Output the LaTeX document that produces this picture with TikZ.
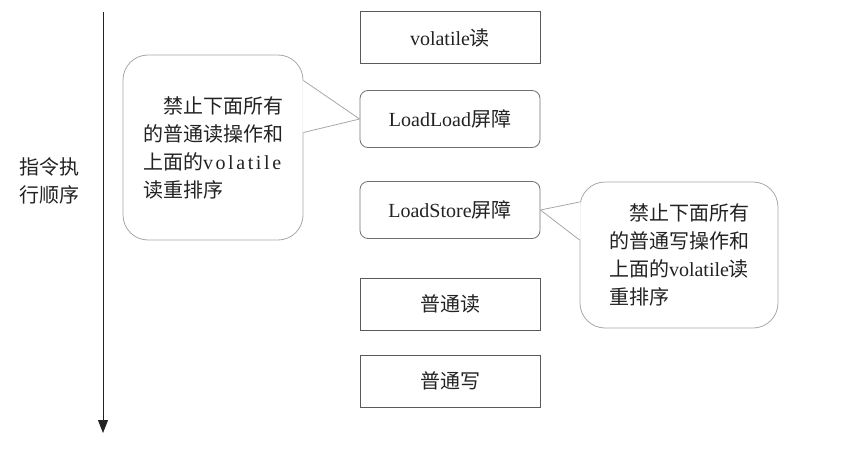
\documentclass[tikz,border=0pt]{standalone}
\usepackage{fontspec}
\setmainfont{Liberation Serif}
\newfontfamily\cjk{Noto Sans CJK SC}
\newcommand{\zh}[1]{{\cjk #1}}
\usetikzlibrary{arrows.meta,calc}
\definecolor{inkgray}{HTML}{222222}
\definecolor{boxgray}{HTML}{5A5A5A}
\definecolor{bargray}{HTML}{707070}
\definecolor{notegray}{HTML}{A8A8A8}
\begin{document}
\begin{tikzpicture}[x=1pt,y=-1pt,
  every node/.style={text=inkgray,font=\fontsize{20}{28}\selectfont},
  plainbox/.style={draw=boxgray,line width=0.8pt,minimum width=180pt,minimum height=52pt},
  barrierbox/.style={plainbox,draw=bargray,rounded corners=8pt,minimum height=57pt},
  notebox/.style={draw=notegray,line width=0.8pt,fill=white,rounded corners=25pt,align=left}]
  \useasboundingbox (0,0) rectangle (853,460);
  % time axis
  \coordinate (tstart) at (103,12);
  \coordinate (tend) at (103,433);
  \draw[-{Triangle[width=10pt,length=13pt]},line width=0.9pt,inkgray] (tstart) -- (tend);
  \node[align=center] (order) at (49,181) {\zh{指令执}\\\zh{行顺序}};
  % instruction sequence
  \node[plainbox] (vread) at (450,37.5) {volatile\zh{读}};
  \node[barrierbox] (barLL) at (450,119) {LoadLoad\zh{屏障}};
  \node[barrierbox] (barLS) at (450,210) {LoadStore\zh{屏障}};
  \node[plainbox] (nread) at (450,304) {\zh{普通读}};
  \node[plainbox] (nwrite) at (450,381) {\zh{普通写}};
  % notes
  \node[notebox,minimum width=180pt,minimum height=185pt] (noteLL) at (213,147.5)
    {\hspace*{1em}\zh{禁止下面所有}\\\zh{的普通读操作和}\\\zh{上面的}{\addfontfeature{LetterSpace=13}volatile}\\\zh{读重排序}};
  \node[notebox,minimum width=198pt,minimum height=146pt] (noteLS) at (679,255)
    {\hspace*{1em}\zh{禁止下面所有}\\\zh{的普通写操作和}\\\zh{上面的}volatile\zh{读}\\\zh{重排序}};
  % note tails
  \coordinate (llA) at ($(noteLL.east)+(0,-67)$);
  \coordinate (llB) at ($(noteLL.east)+(0,-15)$);
  \fill[white] ($(llA)+(-1,0)$) -- (barLL.west) -- ($(llB)+(-1,0)$) -- cycle;
  \draw[notegray,line width=0.8pt] (llA) -- (barLL.west) -- (llB);
  \coordinate (lsA) at ($(noteLS.west)+(0,-53)$);
  \coordinate (lsB) at ($(noteLS.west)+(0,-15)$);
  \fill[white] ($(lsA)+(1,0)$) -- (barLS.east) -- ($(lsB)+(1,0)$) -- cycle;
  \draw[notegray,line width=0.8pt] (lsA) -- (barLS.east) -- (lsB);
\end{tikzpicture}
\end{document}
